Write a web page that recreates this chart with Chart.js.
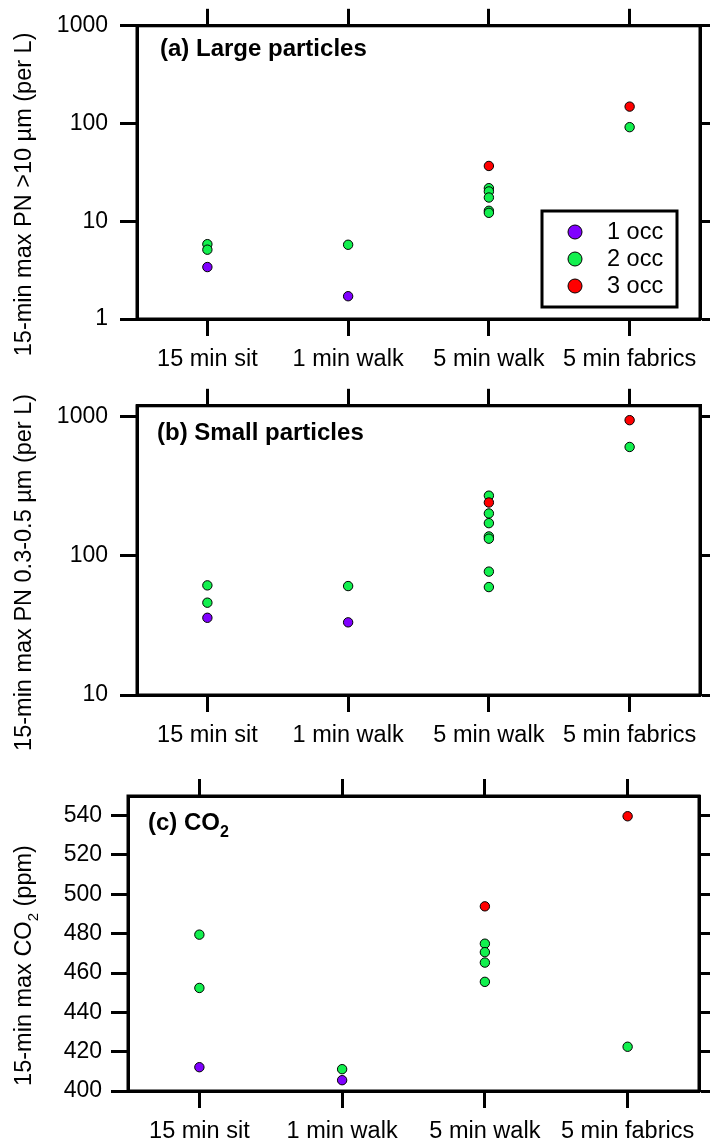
<!DOCTYPE html>
<html>
<head>
<meta charset="utf-8">
<script src="https://cdn.jsdelivr.net/npm/chart.js@4.4.1/dist/chart.umd.min.js"></script>
<style>
  html, body { margin: 0; padding: 0; background: #fff; }
  #wrap { position: relative; width: 710px; height: 1146px; }
  canvas { position: absolute; left: 0; }
</style>
</head>
<body>
<div id="wrap">
  <canvas id="panelA" width="710" height="380" style="top:0px"></canvas>
  <canvas id="panelB" width="710" height="380" style="top:380px"></canvas>
  <canvas id="panelC" width="710" height="386" style="top:760px"></canvas>
</div>
<script>
const categories = ['15 min sit', '1 min walk', '5 min walk', '5 min fabrics'];
const occupancy = ['1 occ', '2 occ', '3 occ'];
const occColors = ['#8000FF', '#12F04E', '#FF0000'];

// (a) 15-min max PN > 10 um, per L
const largeCat1 = [0, 1];
const largeVal1 = [3.40, 1.71];
const largeCat2 = [0, 0, 1, 2, 2, 2, 2, 2, 3];
const largeVal2 = [5.83, 5.12, 5.75, 21.8, 20.2, 17.5, 12.8, 12.2, 91.8];
const largeCat3 = [2, 3];
const largeVal3 = [36.8, 149];
const largeTicks = [1, 10, 100, 1000];

// (b) 15-min max PN 0.3-0.5 um, per L
const smallCat1 = [0, 1];
const smallVal1 = [35.9, 33.3];
const smallCat2 = [0, 0, 1, 2, 2, 2, 2, 2, 2, 2, 3];
const smallVal2 = [61.4, 46.1, 60.7, 271, 202, 172, 138, 133, 77.1, 59.7, 607];
const smallCat3 = [2, 3];
const smallVal3 = [242, 946];
const smallTicks = [10, 100, 1000];

// (c) 15-min max CO2, ppm
const co2Cat1 = [0, 1];
const co2Val1 = [412.1, 405.5];
const co2Cat2 = [0, 0, 1, 2, 2, 2, 2, 3];
const co2Val2 = [479.5, 452.4, 411.1, 474.9, 470.6, 465.3, 455.5, 422.5];
const co2Cat3 = [2, 3];
const co2Val3 = [493.9, 539.7];

const FONT = "'Liberation Sans', Arial, Helvetica, sans-serif";
Chart.defaults.font.family = FONT;
Chart.defaults.font.size = 23;
Chart.defaults.color = '#000';

function points(cats, vals) {
  return vals.map((v, i) => ({ x: categories[cats[i]], y: v }));
}

function series(c1, v1, c2, v2, c3, v3) {
  const sets = [[c1, v1], [c2, v2], [c3, v3]];
  return sets.map(([c, v], i) => ({
    label: occupancy[i],
    data: points(c, v),
    backgroundColor: occColors[i],
    borderColor: '#000',
    borderWidth: 1,
    pointRadius: 4.7,
    order: 2 - i
  }));
}

function runFont(run, size, bold) {
  const s = run.sub ? Math.round(size * 0.65) : size;
  return (bold ? 'bold ' : '') + s + 'px ' + FONT;
}

function runsWidth(ctx, runs, size, bold) {
  return runs.reduce((w, r) => {
    ctx.font = runFont(r, size, bold);
    return w + ctx.measureText(r.text).width;
  }, 0);
}

function drawRuns(ctx, runs, x, y, size, bold) {
  runs.forEach(r => {
    ctx.font = runFont(r, size, bold);
    ctx.fillText(r.text, x, r.sub ? y + size * 0.3 : y);
    x += ctx.measureText(r.text).width;
  });
}

// frame, panel label, rotated axis title and boxed legend
const panelDecor = {
  id: 'panelDecor',
  afterDraw(chart, args, opts) {
    const ctx = chart.ctx;
    const area = chart.chartArea;
    ctx.save();
    ctx.strokeStyle = '#000';
    ctx.lineWidth = 3;
    ctx.lineJoin = 'miter';
    ctx.strokeRect(area.left, area.top, area.right - area.left, area.bottom - area.top);

    ctx.fillStyle = '#000';
    ctx.textBaseline = 'alphabetic';
    ctx.textAlign = 'left';
    drawRuns(ctx, opts.title, area.left + opts.titleDx, area.top + opts.titleDy, 24, true);

    ctx.save();
    ctx.translate(opts.yTitleX, (area.top + area.bottom) / 2 + 22);
    ctx.rotate(-Math.PI / 2);
    const w = runsWidth(ctx, opts.yTitle, 23.5, false);
    drawRuns(ctx, opts.yTitle, -w / 2, 0, 23.5, false);
    ctx.restore();

    if (opts.legend) {
      const L = opts.legend;
      const bx = area.right - L.right - L.width;
      const by = area.bottom - L.bottom - L.height;
      ctx.fillStyle = '#fff';
      ctx.fillRect(bx, by, L.width, L.height);
      ctx.lineWidth = 3;
      ctx.strokeRect(bx, by, L.width, L.height);
      chart.data.datasets.forEach((ds, i) => {
        const cy = by + 21 + i * 27;
        ctx.beginPath();
        ctx.arc(bx + 33, cy, 7, 0, Math.PI * 2);
        ctx.fillStyle = ds.backgroundColor;
        ctx.fill();
        ctx.lineWidth = 1;
        ctx.stroke();
        ctx.fillStyle = '#000';
        ctx.font = '23.5px ' + FONT;
        ctx.textBaseline = 'middle';
        ctx.fillText(ds.label, bx + 65, cy + 1);
      });
    }
    ctx.restore();
  }
};

function tickMarks() {
  return { display: true, drawOnChartArea: false, drawTicks: true, tickLength: 17, tickWidth: 3, tickColor: '#000' };
}

function makePanel(id, datasets, yOpts, box, decor) {
  const yMain = Object.assign({}, yOpts, {
    position: 'left',
    border: { display: true, color: '#000', width: 3 },
    grid: tickMarks(),
    ticks: Object.assign({ color: '#000', padding: box.yPad }, yOpts.ticks),
    afterFit(s) { s.width = box.left; }
  });
  const yMirror = Object.assign({}, yOpts, {
    position: 'right',
    border: { display: true, color: '#000', width: 3 },
    grid: tickMarks(),
    ticks: Object.assign({}, yOpts.ticks, { display: false }),
    afterFit(s) { s.width = box.right; }
  });
  return new Chart(document.getElementById(id), {
    type: 'scatter',
    data: { datasets },
    options: {
      responsive: false,
      animation: false,
      events: [],
      layout: { padding: 0 },
      plugins: {
        legend: { display: false },
        tooltip: { enabled: false },
        panelDecor: decor
      },
      scales: {
        x: {
          type: 'category',
          labels: categories,
          offset: true,
          position: 'bottom',
          border: { display: true, color: '#000', width: 3 },
          grid: tickMarks(),
          ticks: { color: '#000', padding: 9, maxRotation: 0, autoSkip: false, font: { size: 23.5 } },
          afterFit(s) { s.height = box.bottom; }
        },
        x2: {
          type: 'category',
          labels: categories,
          offset: true,
          position: 'top',
          border: { display: true, color: '#000', width: 3 },
          grid: tickMarks(),
          ticks: { display: false },
          afterFit(s) { s.height = box.top; }
        },
        y: yMain,
        y2: yMirror
      }
    },
    plugins: [panelDecor]
  });
}

function logAxis(min, max, decades) {
  return {
    type: 'logarithmic',
    min: min,
    max: max,
    afterBuildTicks(s) { s.ticks = decades.map(v => ({ value: v })); },
    ticks: { callback: v => String(v) }
  };
}

makePanel('panelA',
  series(largeCat1, largeVal1, largeCat2, largeVal2, largeCat3, largeVal3),
  logAxis(1, 1000, largeTicks),
  { left: 137, right: 10, top: 24, bottom: 61, yPad: 12 },
  {
    title: [{ text: '(a) Large particles' }],
    titleDx: 23, titleDy: 30.5,
    yTitle: [{ text: '15-min max PN >10 µm (per L)' }],
    yTitleX: 31,
    legend: { right: 23, bottom: 12, width: 135, height: 96 }
  });

makePanel('panelB',
  series(smallCat1, smallVal1, smallCat2, smallVal2, smallCat3, smallVal3),
  logAxis(10, 1200, smallTicks),
  { left: 137, right: 10, top: 21, bottom: 65, yPad: 12 },
  {
    title: [{ text: '(b) Small particles' }],
    titleDx: 20, titleDy: 34,
    yTitle: [{ text: '15-min max PN 0.3-0.5 µm (per L)' }],
    yTitleX: 31
  });

makePanel('panelC',
  series(co2Cat1, co2Val1, co2Cat2, co2Val2, co2Cat3, co2Val3),
  {
    type: 'linear',
    min: 400,
    max: 550,
    ticks: { stepSize: 20, includeBounds: false }
  },
  { left: 128, right: 11, top: 36, bottom: 55, yPad: 9 },
  {
    title: [{ text: '(c) CO' }, { text: '2', sub: true }],
    titleDx: 20, titleDy: 33.5,
    yTitle: [{ text: '15-min max CO' }, { text: '2', sub: true }, { text: ' (ppm)' }],
    yTitleX: 31
  });
</script>
</body>
</html>
